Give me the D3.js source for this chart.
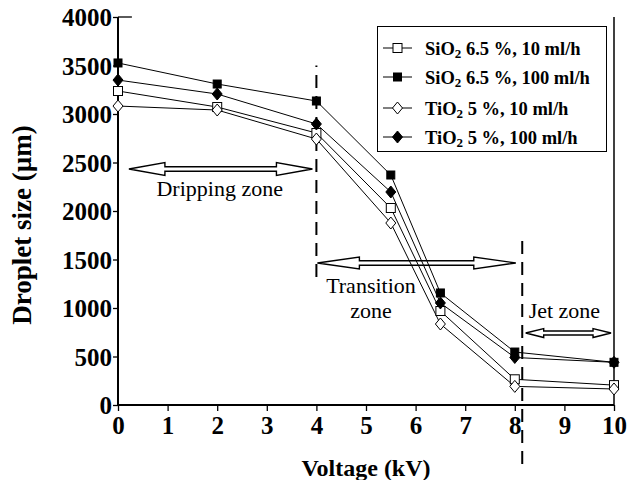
<!DOCTYPE html>
<html>
<head>
<meta charset="utf-8">
<script src="https://cdn.jsdelivr.net/npm/d3@7"></script>
<style>
html,body{margin:0;padding:0;background:#fff;}
svg{display:block;}
</style>
</head>
<body>
<svg id="chart" width="631" height="480"></svg>
<script>
// ---- data ----
const voltage = [0, 2, 4, 5.5, 6.5, 8, 10];
const sio2_10  = [3237, 3072, 2804, 2031, 969, 265, 205];
const sio2_100 = [3526, 3309, 3134, 2371, 1155, 546, 440];
const tio2_10  = [3082, 3041, 2742, 1876, 835, 192, 165];
const tio2_100 = [3350, 3206, 2897, 2196, 1052, 490, 440];
const seriesNames = ["SiO|2| 6.5 %, 10 ml/h", "SiO|2| 6.5 %, 100 ml/h", "TiO|2| 5 %, 10 ml/h", "TiO|2| 5 %, 100 ml/h"];
const seriesMarkers = ["square-open", "square-filled", "diamond-open", "diamond-filled"];
const xTicks = [0,1,2,3,4,5,6,7,8,9,10];
const yTicks = [0,500,1000,1500,2000,2500,3000,3500,4000];
const zoneBoundaries = [ {x: 4, y0: 1320, y1: 3500}, {x: 8.15, y0: 1690, y1: -670} ];
const zoneArrows = [ {x0: 0.22, x1: 3.92, y: 2433}, {x0: 4.02, x1: 8.02, y: 1464}, {x0: 8.22, x1: 9.94, y: 742} ];
const zoneLabels = [ {lines: ["Dripping zone"], x: 2.05, y: 2150}, {lines: ["Transition", "zone"], x: 5.1, y: 1150}, {lines: ["Jet zone"], x: 9.0, y: 895} ];

const allSeries = [sio2_10, sio2_100, tio2_10, tio2_100];

const svg = d3.select("#chart");
const x = d3.scaleLinear().domain([0, 10]).range([118, 614]);
const y = d3.scaleLinear().domain([0, 4000]).range([405, 17]);
const FONT = "'Liberation Serif','Times New Roman',serif";

// axes
const xAxis = d3.axisBottom(x).tickValues(xTicks).tickSize(6).tickFormat(d3.format("d"));
const gx = svg.append("g").attr("transform", `translate(0,${y(0)})`).call(xAxis);
gx.select(".domain").attr("stroke", "#000").attr("stroke-width", 2).attr("d", `M${x(0)},0H${x(10)}`);
gx.selectAll(".tick line").attr("stroke", "#000").attr("stroke-width", 1.3);
gx.selectAll(".tick text").attr("font-family", FONT).attr("font-weight", "bold").attr("font-size", 25).attr("fill", "#000").attr("dy", null).attr("y", 29);

const yAxis = d3.axisLeft(y).tickValues(yTicks).tickSize(5).tickFormat(d3.format("d"));
const gy = svg.append("g").attr("transform", `translate(${x(0)},0)`).call(yAxis);
gy.select(".domain").attr("stroke", "#000").attr("stroke-width", 2).attr("d", `M0,${y(0)}V${y(4000)}`);
gy.selectAll(".tick line").attr("stroke", "#000").attr("stroke-width", 1.3);
gy.selectAll(".tick text").attr("font-family", FONT).attr("font-weight", "bold").attr("font-size", 25).attr("fill", "#000").attr("x", -6).attr("dy", "0.34em");

// top tick stub and right border
svg.append("line").attr("x1", x(0)).attr("x2", x(0.28)).attr("y1", y(4000)).attr("y2", y(4000)).attr("stroke", "#000").attr("stroke-width", 1.3);
svg.append("line").attr("x1", x(10)).attr("x2", x(10)).attr("y1", y(4000)).attr("y2", y(0)).attr("stroke", "#000").attr("stroke-width", 1.5);

// axis titles
svg.append("text").attr("x", (x(0)+x(10))/2).attr("y", 476).attr("text-anchor", "middle")
  .attr("font-family", FONT).attr("font-weight", "bold").attr("font-size", 24).text("Voltage (kV)");
svg.append("text").attr("transform", `translate(31,225) rotate(-90)`).attr("text-anchor", "middle")
  .attr("font-family", FONT).attr("font-weight", "bold").attr("font-size", 27).text("Droplet size (\u00b5m)");

// zone boundaries (dashed)
svg.append("g").selectAll("line").data(zoneBoundaries).join("line")
  .attr("x1", d => x(d.x)).attr("x2", d => x(d.x)).attr("y1", d => y(d.y0)).attr("y2", d => y(d.y1))
  .attr("stroke", "#000").attr("stroke-width", 2).attr("stroke-dasharray", "13,8");

// zone arrows
function arrowPath(x0, x1, yy, head, hh, sh) {
  return `M${x0},${yy} L${x0+head},${yy-hh} L${x0+head},${yy-sh} L${x1-head},${yy-sh} L${x1-head},${yy-hh} L${x1},${yy} L${x1-head},${yy+hh} L${x1-head},${yy+sh} L${x0+head},${yy+sh} L${x0+head},${yy+hh} Z`;
}
const arrowStyle = [ {head: 36, hh: 6.5, sh: 2.3}, {head: 42, hh: 6, sh: 2.3}, {head: 18, hh: 4.5, sh: 2} ];
svg.append("g").selectAll("path").data(zoneArrows).join("path")
  .attr("d", (d, i) => arrowPath(x(d.x0), x(d.x1), y(d.y), arrowStyle[i].head, arrowStyle[i].hh, arrowStyle[i].sh))
  .attr("fill", "#fff").attr("stroke", "#000").attr("stroke-width", 1.4).attr("stroke-linejoin", "miter");

// zone labels
const zl = svg.append("g").selectAll("text").data(zoneLabels).join("text")
  .attr("font-family", FONT).attr("font-size", 22).attr("text-anchor", "middle")
  .attr("x", d => x(d.x)).attr("y", d => y(d.y));
zl.selectAll("tspan").data(d => d.lines.map((t, i) => ({t, i, x: d.x}))).join("tspan")
  .attr("x", d => x(d.x)).attr("dy", d => d.i === 0 ? 0 : 25).text(d => d.t);

// series lines
const line = d3.line().x((d, i) => x(voltage[i])).y(d => y(d));
svg.append("g").selectAll("path").data(allSeries).join("path")
  .attr("d", d => line(d)).attr("fill", "none").attr("stroke", "#000").attr("stroke-width", 1);

// markers
function drawMarker(g, type, cx, cy) {
  if (type.startsWith("square")) {
    const s = type === "square-open" ? 9 : 8;
    g.append("rect").attr("x", cx - s/2).attr("y", cy - s/2).attr("width", s).attr("height", s)
      .attr("fill", type === "square-open" ? "#fff" : "#000").attr("stroke", "#000").attr("stroke-width", 1);
  } else {
    const w = 5, h = 6;
    g.append("path").attr("d", `M${cx},${cy-h} L${cx+w},${cy} L${cx},${cy+h} L${cx-w},${cy} Z`)
      .attr("fill", type === "diamond-open" ? "#fff" : "#000").attr("stroke", "#000").attr("stroke-width", 1);
  }
}
const mg = svg.append("g");
allSeries.forEach((s, si) => {
  s.forEach((v, i) => drawMarker(mg, seriesMarkers[si], x(voltage[i]), y(v)));
});

// legend
const leg = svg.append("g");
leg.append("rect").attr("x", 377.5).attr("y", 26.5).attr("width", 229).attr("height", 125)
  .attr("fill", "#fff").attr("stroke", "#000").attr("stroke-width", 1);
const rowY = [48, 77, 108, 137];
seriesNames.forEach((name, i) => {
  const yy = rowY[i];
  leg.append("line").attr("x1", 383).attr("x2", 412).attr("y1", yy).attr("y2", yy).attr("stroke", "#000").attr("stroke-width", 1);
  drawMarker(leg, seriesMarkers[i], 397.5, yy);
  const parts = name.split("|");
  const t = leg.append("text").attr("x", 425).attr("y", yy + 6.5)
    .attr("font-family", FONT).attr("font-weight", "bold").attr("font-size", 18.5);
  t.append("tspan").text(parts[0]);
  t.append("tspan").attr("font-size", 13).attr("dy", 3).text(parts[1]);
  t.append("tspan").attr("dy", -3).text(parts[2]);
});
</script>
</body>
</html>
